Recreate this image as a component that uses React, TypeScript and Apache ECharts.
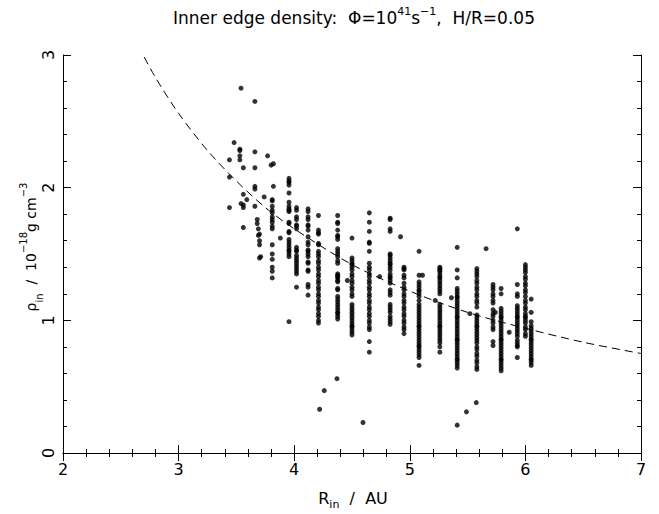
import React, { useEffect, useRef } from "react";
import * as echarts from "echarts";

// Dashed model curve
const curveR = [2.65, 2.8, 3.0, 3.25, 3.5, 3.75, 4.0, 4.5, 5.0, 5.5, 6.0, 6.5, 7.0];
const curveRho = [3.07, 2.83, 2.56, 2.28, 2.05, 1.85, 1.69, 1.42, 1.22, 1.06, 0.94, 0.835, 0.75];

// Columns of points: R value and the densities at it
const rho381 = [1.91, 1.9, 1.86, 1.83, 1.81, 1.78, 1.76, 1.74, 1.71, 1.69, 1.57, 1.5, 1.46, 1.4, 1.37, 1.32];
const rho396 = [2.07, 2.05, 2.04, 2.02, 1.96, 1.89, 1.86, 1.84, 1.83, 1.82, 1.74, 1.73, 1.67, 1.66, 1.61, 1.59, 1.57, 1.55, 1.53, 1.52, 1.5, 1.48, 0.99];
const rho402 = [1.85, 1.83, 1.78, 1.76, 1.72, 1.71, 1.69, 1.55, 1.53, 1.52, 1.49, 1.47, 1.45, 1.43, 1.41, 1.39, 1.37, 1.35, 1.25];
const rho412 = [1.84, 1.82, 1.78, 1.76, 1.72, 1.71, 1.68, 1.63, 1.59, 1.57, 1.53, 1.52, 1.5, 1.48, 1.44, 1.43, 1.38, 1.37, 1.27, 1.25, 1.19];
const rho421 = [1.79, 1.68, 1.66, 1.65, 1.58, 1.57, 1.52, 1.5, 1.48, 1.45, 1.43, 1.4, 1.38, 1.35, 1.33, 1.3, 1.28, 1.25, 1.23, 1.2, 1.18, 1.15, 1.13, 1.1, 1.08, 1.05, 1.03, 1.0, 0.98];
const rho438 = [1.79, 1.74, 1.73, 1.68, 1.64, 1.63, 1.61, 1.54, 1.52, 1.5, 1.48, 1.45, 1.43, 1.35, 1.34, 1.33, 1.32, 1.3, 1.29, 1.24, 1.23, 1.18, 1.16, 1.14, 1.12, 1.1, 1.08, 1.06, 1.05, 1.03, 1.01];
const rho450 = [1.62, 1.47, 1.45, 1.43, 1.42, 1.4, 1.38, 1.35, 1.33, 1.3, 1.28, 1.25, 1.23, 1.2, 1.18, 1.12, 1.1, 1.08, 1.06, 1.04, 1.02, 1.0, 0.98, 0.96, 0.95, 0.93, 0.91, 0.89];
const rho465 = [1.81, 1.74, 1.67, 1.59, 1.58, 1.52, 1.43, 1.4, 1.38, 1.35, 1.33, 1.3, 1.28, 1.25, 1.23, 1.2, 1.18, 1.15, 1.13, 1.1, 1.08, 1.05, 1.03, 1.0, 0.98, 0.95, 0.93, 0.84, 0.76];
const rho483 = [1.77, 1.76, 1.69, 1.67, 1.5, 1.49, 1.47, 1.45, 1.43, 1.42, 1.4, 1.38, 1.35, 1.33, 1.32, 1.3, 1.28, 1.23, 1.21, 1.19, 1.12, 1.1, 1.08, 1.06, 1.03, 1.01, 0.99, 0.97];
const rho495 = [1.4, 1.39, 1.38, 1.34, 1.32, 1.28, 1.25, 1.23, 1.2, 1.18, 1.15, 1.13, 1.1, 1.08, 1.05, 1.03, 1.0, 0.98, 0.95, 0.93, 0.9];
const rho508 = [1.52, 1.34, 1.29, 1.27, 1.25, 1.23, 1.22, 1.2, 1.18, 1.15, 1.12, 1.1, 1.08, 1.06, 1.04, 1.02, 1.0, 0.98, 0.96, 0.95, 0.93, 0.91, 0.89, 0.87, 0.85, 0.83, 0.81, 0.8, 0.78, 0.76, 0.74, 0.72, 0.66];
const rho526 = [1.4, 1.39, 1.38, 1.37, 1.35, 1.33, 1.32, 1.3, 1.28, 1.26, 1.24, 1.22, 1.2, 1.12, 1.1, 1.08, 1.06, 1.04, 1.02, 1.0, 0.98, 0.96, 0.95, 0.93, 0.91, 0.89, 0.87, 0.85, 0.83, 0.8, 0.76];
const rho541 = [1.55, 1.38, 1.32, 1.24, 1.22, 1.2, 1.18, 1.17, 1.15, 1.13, 1.11, 1.09, 1.07, 1.05, 1.03, 1.02, 1.0, 0.98, 0.96, 0.94, 0.92, 0.9, 0.88, 0.86, 0.85, 0.83, 0.81, 0.79, 0.77, 0.75, 0.73, 0.71, 0.7, 0.68, 0.66, 0.64, 0.21];
const rho558 = [1.39, 1.37, 1.35, 1.33, 1.3, 1.28, 1.25, 1.23, 1.2, 1.18, 1.15, 1.13, 1.1, 1.04, 1.02, 1.0, 0.98, 0.96, 0.95, 0.93, 0.91, 0.89, 0.87, 0.85, 0.83, 0.8, 0.78, 0.75, 0.73, 0.7, 0.68, 0.65, 0.63];
const rho572 = [1.27, 1.25, 1.23, 1.2, 1.18, 1.15, 1.13, 1.08, 1.05, 1.03, 1.0, 0.98, 0.95, 0.93, 0.84, 0.81];
const rho579 = [1.24, 1.2, 1.09, 1.07, 1.05, 1.03, 1.02, 1.0, 0.98, 0.96, 0.94, 0.92, 0.9, 0.88, 0.86, 0.85, 0.83, 0.81, 0.79, 0.77, 0.75, 0.73, 0.71, 0.7, 0.68, 0.66, 0.64, 0.62];
const rho593 = [1.69, 1.27, 1.2, 1.18, 1.11, 1.09, 1.07, 1.05, 1.03, 1.02, 1.0, 0.98, 0.96, 0.94, 0.92, 0.9, 0.88, 0.85, 0.83, 0.81, 0.8, 0.72];
const rho600 = [1.42, 1.4, 1.38, 1.36, 1.33, 1.31, 1.28, 1.26, 1.23, 1.21, 1.18, 1.15, 1.13, 1.1, 1.08, 1.05, 1.03, 1.02, 1.0, 0.98, 0.95, 0.93, 0.9, 0.88];
const rho605 = [1.16, 1.06, 0.99, 0.96, 0.94, 0.92, 0.9, 0.88, 0.86, 0.85, 0.83, 0.81, 0.79, 0.77, 0.75, 0.73, 0.71, 0.7, 0.68, 0.66];

const columnR = [3.81, 3.955, 4.02, 4.12, 4.21, 4.376, 4.5, 4.65, 4.83, 4.95, 5.08, 5.26, 5.41, 5.58, 5.72, 5.79, 5.93, 6.0, 6.05];
const columnRho = [rho381, rho396, rho402, rho412, rho421, rho438, rho450, rho465, rho483, rho495, rho508, rho526, rho541, rho558, rho572, rho579, rho593, rho600, rho605];

// Scattered individual points [R, rho]
const loosePoints = [
  [3.44, 2.21], [3.44, 2.08], [3.44, 1.85], [3.48, 2.34], [3.54, 2.75],
  [3.53, 2.29], [3.53, 2.28], [3.53, 2.24], [3.53, 2.21], [3.56, 2.15],
  [3.56, 1.95], [3.59, 1.91], [3.54, 1.88], [3.56, 1.87], [3.56, 1.85],
  [3.56, 1.7], [3.66, 2.65], [3.66, 2.27], [3.66, 2.15], [3.66, 2.01],
  [3.66, 1.99], [3.66, 1.86], [3.68, 1.76], [3.68, 1.73], [3.69, 1.69],
  [3.7, 1.65], [3.69, 1.64], [3.7, 1.6], [3.7, 1.57], [3.7, 1.47],
  [3.71, 1.48], [3.74, 1.93], [3.77, 2.24], [3.82, 2.18], [3.8, 2.17],
  [3.82, 2.01], [3.88, 1.62], [4.22, 0.33], [4.26, 0.47], [4.37, 0.56],
  [4.46, 1.3], [4.595, 0.23], [4.74, 1.33], [4.92, 1.63], [5.11, 1.34],
  [5.22, 1.15], [5.36, 1.17], [5.49, 0.31], [5.575, 0.38], [5.52, 1.05],
  [5.66, 1.54], [5.74, 1.06], [5.86, 0.91],
];

const xTicks = [2, 3, 4, 5, 6, 7];
const yTicks = [0, 1, 2, 3];

const FONT = "'DejaVu Sans', 'Liberation Sans', sans-serif";

export default function App() {
  const ref = useRef<HTMLDivElement>(null);
  useEffect(() => {
    if (!ref.current) return;
    const chart = echarts.init(ref.current, null, { renderer: "svg" });
    const points: number[][] = [];
    columnR.forEach((r, i) => {
      columnRho[i].forEach((v) => points.push([r, v]));
    });
    loosePoints.forEach((p) => points.push(p));
    const curve = curveR.map((r, i) => [r, curveRho[i]]);

    const axisCommon = {
      axisLine: { show: true, lineStyle: { color: "#000", width: 1 } },
      axisTick: { show: true, inside: true, length: 8, lineStyle: { color: "#000" } },
      minorTick: { show: true, splitNumber: 5, length: 4, lineStyle: { color: "#000" } },
      splitLine: { show: false },
      minorSplitLine: { show: false },
    };

    const staticGraphics: any[] = [
      {
        id: "title",
        type: "text",
        x: 354,
        y: 6,
        style: {
          text: "Inner edge density:  Φ=10{sup|41}s{sup|−1},  H/R=0.05",
          align: "center",
          verticalAlign: "top",
          font: `17px ${FONT}`,
          fill: "#000",
          lineHeight: 23,
          rich: {
            sup: { fontSize: 11, fontFamily: FONT, verticalAlign: "top", lineHeight: 10, fill: "#000" },
          },
        },
      },
      {
        id: "xname",
        type: "text",
        x: 353,
        y: 498,
        style: {
          text: "R{sub|in}  /  AU",
          align: "center",
          verticalAlign: "middle",
          font: `16px ${FONT}`,
          fill: "#000",
          lineHeight: 24,
          rich: {
            sub: { fontSize: 11, fontFamily: FONT, verticalAlign: "bottom", lineHeight: 10, fill: "#000" },
          },
        },
      },
      {
        id: "yname",
        type: "text",
        x: 31,
        y: 247,
        rotation: Math.PI / 2,
        style: {
          text: "ρ{sub|in}  /  10{sup|−18}g cm{sup|−3}",
          align: "center",
          verticalAlign: "middle",
          font: `14px ${FONT}`,
          fill: "#000",
          lineHeight: 26,
          rich: {
            sub: { fontSize: 10, fontFamily: FONT, verticalAlign: "bottom", lineHeight: 11, fill: "#000" },
            sup: { fontSize: 10, fontFamily: FONT, verticalAlign: "top", lineHeight: 11, fill: "#000" },
          },
        },
      },
    ];

    chart.setOption({
      animation: false,
      backgroundColor: "#fff",
      grid: { left: 63, right: 18, top: 55, bottom: 61, containLabel: false },
      xAxis: [
        {
          type: "value",
          min: xTicks[0],
          max: xTicks[xTicks.length - 1],
          interval: 1,
          position: "bottom",
          ...axisCommon,
          axisLabel: { color: "#000", fontSize: 16, fontFamily: FONT, margin: 8 },
        },
        {
          type: "value",
          min: xTicks[0],
          max: xTicks[xTicks.length - 1],
          interval: 1,
          position: "top",
          ...axisCommon,
          axisLabel: { show: false },
        },
      ],
      yAxis: [
        {
          type: "value",
          min: yTicks[0],
          max: yTicks[yTicks.length - 1],
          interval: 1,
          position: "left",
          ...axisCommon,
          axisLabel: { show: false },
        },
        {
          type: "value",
          min: yTicks[0],
          max: yTicks[yTicks.length - 1],
          interval: 1,
          position: "right",
          ...axisCommon,
          axisLabel: { show: false },
        },
      ],
      graphic: staticGraphics,
      series: [
        {
          type: "scatter",
          data: points,
          symbol: "circle",
          symbolSize: 5,
          itemStyle: { color: "#000" },
          xAxisIndex: 0,
          yAxisIndex: 0,
        },
        {
          type: "line",
          data: curve,
          smooth: 0.3,
          showSymbol: false,
          clip: true,
          lineStyle: { color: "#000", width: 1, type: [8, 5] },
          xAxisIndex: 0,
          yAxisIndex: 0,
        },
      ],
    });

    // Rotated y tick labels, placed through the axis scale
    const x0 = chart.convertToPixel({ xAxisIndex: 0 }, xTicks[0]) as number;
    const yLabels = yTicks.map((v) => ({
      id: "ylab" + v,
      type: "text",
      x: x0 - 15,
      y: chart.convertToPixel({ yAxisIndex: 0 }, v) as number,
      rotation: Math.PI / 2,
      style: {
        text: String(v),
        align: "center",
        verticalAlign: "middle",
        font: `16px ${FONT}`,
        fill: "#000",
      },
    }));
    chart.setOption({ graphic: [...staticGraphics, ...yLabels] });

    return () => chart.dispose();
  }, []);
  return <div ref={ref} style={{ position: "fixed", left: 0, top: 0, width: 659, height: 514 }} />;
}
